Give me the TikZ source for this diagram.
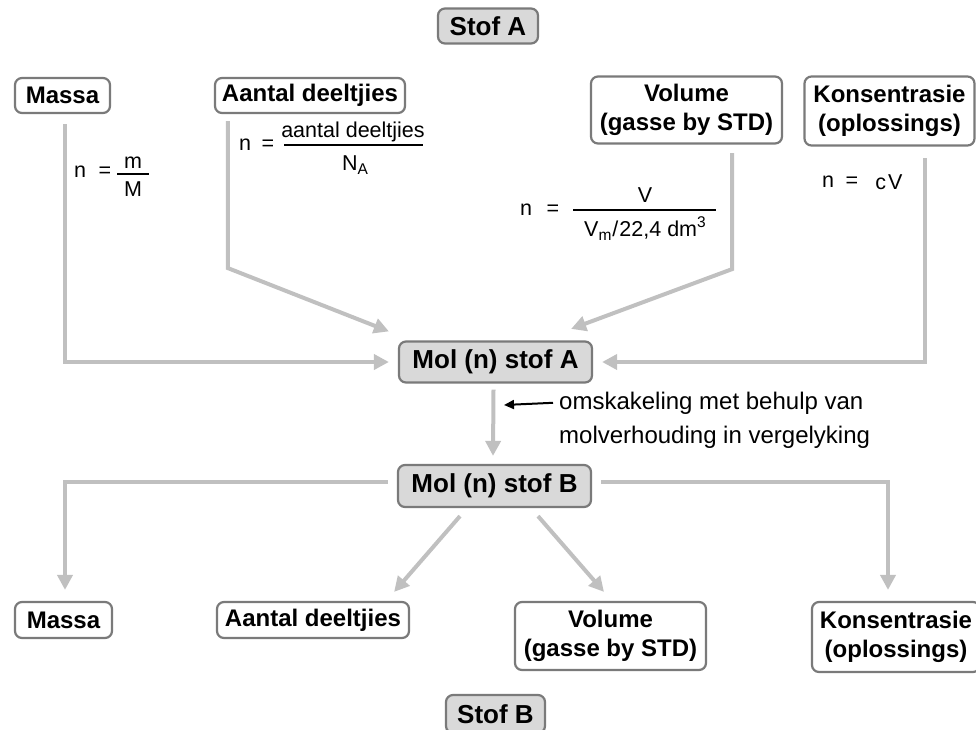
\documentclass[tikz,border=0pt]{standalone}
\usepackage{fontspec}
\setmainfont{Liberation Sans}
\usetikzlibrary{arrows.meta}
\definecolor{conncol}{RGB}{192,192,192}
\definecolor{bordcol}{RGB}{122,122,122}
\definecolor{keyfill}{RGB}{217,217,217}
\newcommand{\mysub}[1]{\raisebox{-4pt}{\fontsize{15.5}{16}\selectfont #1}}
\newcommand{\mysup}[1]{\raisebox{9pt}{\fontsize{15.5}{16}\selectfont #1}}
\begin{document}
\begin{tikzpicture}[x=1pt,y=-1pt,
  lbl/.style={draw=bordcol, line width=2.2pt, rounded corners=7pt, fill=white, align=center,
    inner sep=0pt, font=\fontsize{24}{29}\selectfont\bfseries},
  keybox/.style={lbl, fill=keyfill, font=\fontsize{26}{30}\selectfont\bfseries},
  conn/.style={draw=conncol, line width=4pt, -{Triangle[length=15pt,width=15pt]}},
  fml/.style={font=\fontsize{21.5}{26}\selectfont, inner sep=0pt},
  fbar/.style={draw=black, line width=1.1pt},
  notetxt/.style={font=\fontsize{24}{29}\selectfont, inner sep=0pt, anchor=base west},
  notearrow/.style={draw=black, line width=2pt, -{Triangle[length=10pt,width=9pt]}}
]
\useasboundingbox (0,0) rectangle (976,729);

% top boxes
\node[keybox, minimum width=100pt, minimum height=35pt] (stofA) at (488,26) {Stof A};
\node[lbl, minimum width=95pt, minimum height=35pt] (mA) at (62.5,95.5) {Massa};
\node[lbl, minimum width=190pt, minimum height=35pt] (aA) at (310,95.5) {Aantal deeltjies};
\node[lbl, minimum width=191pt, minimum height=67pt] (vA) at (686.5,110) {Volume\\(gasse by STD)};
\node[lbl, minimum width=170pt, minimum height=69pt] (kA) at (889.5,111) {Konsentrasie\\(oplossings)};

% central boxes
\node[keybox, minimum width=193pt, minimum height=41pt] (molA) at (495.5,362) {Mol (n) stof A};
\node[keybox, minimum width=193pt, minimum height=42pt] (molB) at (494.5,486) {Mol (n) stof B};

% bottom boxes
\node[lbl, minimum width=97pt, minimum height=36pt] (mB) at (63.5,620) {Massa};
\node[lbl, minimum width=192pt, minimum height=36pt] (aB) at (313,620) {Aantal deeltjies};
\node[lbl, minimum width=191pt, minimum height=68pt] (vB) at (610.5,636) {Volume\\(gasse by STD)};
\node[lbl, minimum width=168pt, minimum height=70pt] (kB) at (896,637) {Konsentrasie\\(oplossings)};
\node[keybox, minimum width=99pt, minimum height=38pt] (stofB) at (495.5,714) {Stof B};

% formulas
\node[fml] (f1n) at (80,172) {n};
\node[fml] (f1eq) at (105,172) {=};
\node[fml] (f1num) at (133,163) {m};
\node[fml] (f1den) at (133,189) {M};
\draw[fbar] (117,174) -- (149,174);

\node[fml] (f2n) at (245,145) {n};
\node[fml] (f2eq) at (268,145) {=};
\node[fml, anchor=base] (f2num) at (353,137) {aantal deeltjies};
\node[fml, anchor=base] (f2den) at (355,170) {N\mysub{A}};
\draw[fbar] (284,145) -- (423,145);

\node[fml] (f3n) at (526,210) {n};
\node[fml] (f3eq) at (553,210) {=};
\node[fml] (f3num) at (645,195) {V};
\node[fml, anchor=base] (f3den) at (645,236) {V\mysub{m}\hspace{1pt}/\hspace{1pt}22,4 dm\mysup{3}};
\draw[fbar] (573,210) -- (716,210);

\node[fml] (f4n) at (828,182) {n};
\node[fml] (f4eq) at (852,182) {=};
\node[fml] (f4cv) at (889,182) {c\hspace{2pt}V};

% connectors into Mol A
\draw[conn] ([shift={(2.5,10)}]mA.south) |- ([xshift=-9pt]molA.west);
\draw[conn] ([shift={(14,7)}]aA.south west) -- ++(0,147) -- ([shift={(-9,-9)}]molA.north west);
\draw[conn] ([shift={(-51,8.5)}]vA.south east) -- ++(0,116) -- ([shift={(-22,-11.5)}]molA.north east);
\draw[conn] ([shift={(35,11.5)}]kA.south) |- ([xshift=9pt]molA.east);

% Mol A to Mol B
\draw[conn] ([shift={(-2,6)}]molA.south) -- ([shift={(-1.5,-8)}]molB.north);

% note
\node[notetxt] (note1) at (559,409) {omskakeling met behulp van};
\node[notetxt] (note2) at (559,443) {molverhouding in vergelyking};
\coordinate (notetip) at (504,405);
\draw[notearrow] ([xshift=-6pt]note1.west) -- (notetip);

% connectors from Mol B
\draw[conn] ([shift={(-9,-4)}]molB.west) -| ([shift={(1.5,-11)}]mB.north);
\draw[conn] ([shift={(9,-4)}]molB.east) -| ([shift={(-8,-11)}]kB.north);
\draw[conn] ([shift={(-34.5,8)}]molB.south) -- ([shift={(-16,-9)}]aB.north east);
\draw[conn] ([shift={(43.5,8)}]molB.south) -- ([shift={(-6.5,-9)}]vB.north);
\end{tikzpicture}
\end{document}
